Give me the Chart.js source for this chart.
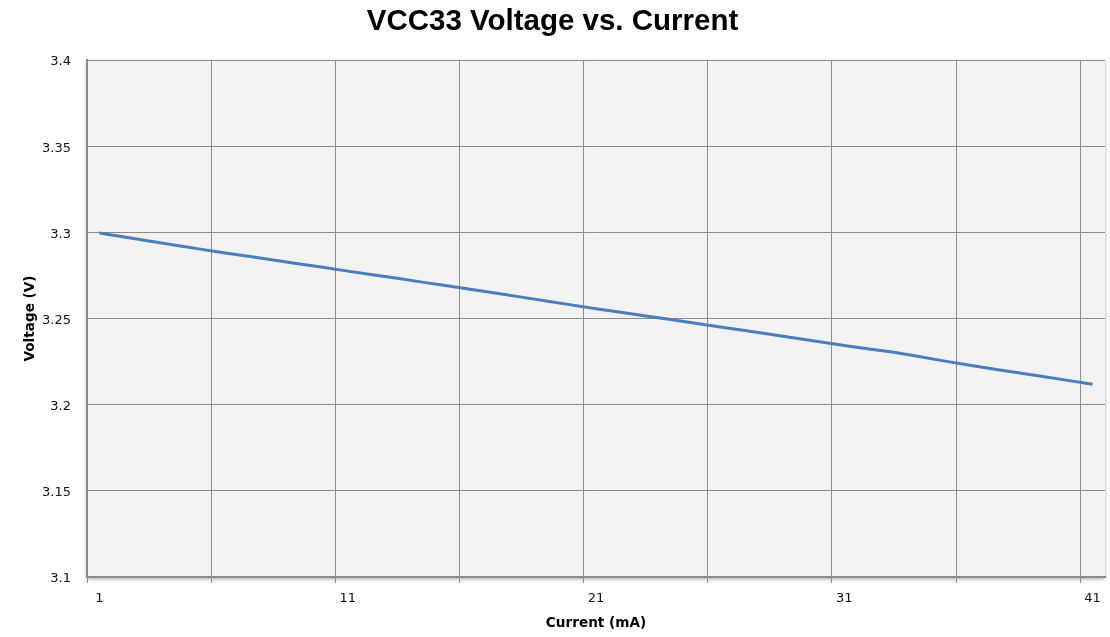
<!DOCTYPE html>
<html>
<head>
<meta charset="utf-8">
<script src="https://cdn.jsdelivr.net/npm/chart.js@4/dist/chart.umd.min.js"></script>
<style>
  html, body { margin: 0; padding: 0; background: #fff; }
  #wrap { width: 1110px; height: 637px; }
</style>
</head>
<body>
<div id="wrap"><canvas id="chart" width="1110" height="637"></canvas></div>
<script>
// current in mA (category labels)
const currents = ["1","2","3","4","5","6","7","8","9","10",
  "11","12","13","14","15","16","17","18","19","20",
  "21","22","23","24","25","26","27","28","29","30",
  "31","32","33","34","35","36","37","38","39","40","41"];

// VCC33 voltage
const voltages = [3.2996, 3.2973, 3.2950, 3.2927, 3.2904, 3.2882, 3.2861, 3.2840, 3.2818, 3.2797,
  3.2775, 3.2754, 3.2733, 3.2711, 3.2690, 3.2668, 3.2646, 3.2624, 3.2601, 3.2579,
  3.2557, 3.2536, 3.2515, 3.2494, 3.2473, 3.2451, 3.2430, 3.2408, 3.2387, 3.2365,
  3.2343, 3.2323, 3.2304, 3.2280, 3.2254, 3.2230, 3.2207, 3.2185, 3.2163, 3.2141, 3.2119];

const gridGray = "#8c8c8c";

// grey plot background with a soft shadow, like the spreadsheet original
const plotBg = {
  id: "plotBg",
  beforeDraw(chart) {
    const {ctx, chartArea: a} = chart;
    ctx.save();
    ctx.shadowColor = "rgba(0,0,0,0.35)";
    ctx.shadowBlur = 4;
    ctx.shadowOffsetX = 0;
    ctx.shadowOffsetY = 2;
    ctx.fillStyle = "#f2f2f2";
    ctx.fillRect(a.left, a.top, a.right - a.left, a.bottom - a.top);
    ctx.restore();
  }
};

const everyFifth = ctx => (ctx.index % 5 === 0 ? gridGray : "rgba(0,0,0,0)");

new Chart(document.getElementById("chart"), {
  type: "line",
  data: {
    labels: currents,
    datasets: [{
      label: "VCC33",
      data: voltages,
      borderColor: "#4a7ebb",
      backgroundColor: "#4a7ebb",
      borderWidth: 3,
      pointRadius: 0,
      tension: 0
    }]
  },
  plugins: [plotBg],
  options: {
    responsive: false,
    animation: false,
    layout: { padding: { left: 0, right: 5, top: 0, bottom: 0 } },
    plugins: {
      legend: { display: false },
      tooltip: { enabled: false },
      title: {
        display: true,
        text: "VCC33 Voltage vs. Current",
        color: "#000",
        font: { family: "'Liberation Sans', Arial, sans-serif", size: 29.5, weight: "bold", lineHeight: 1.2 },
        padding: { top: 4.3, bottom: 20.3 }
      }
    },
    scales: {
      x: {
        offset: true,
        afterFit(s) { s.height = 60; },
        grid: {
          offset: true,
          color: everyFifth,
          tickColor: everyFifth,
          lineWidth: 1,
          tickLength: 6
        },
        border: { color: gridGray, width: 2 },
        ticks: {
          autoSkip: false,
          maxRotation: 0,
          padding: 8,
          color: "#111",
          font: { family: "'DejaVu Sans', sans-serif", size: 13 },
          callback: (v, i) => (i % 10 === 0 ? currents[i] : "")
        },
        title: {
          display: true,
          text: "Current (mA)",
          color: "#000",
          font: { family: "'DejaVu Sans', sans-serif", size: 13.6, weight: "bold" },
          padding: { top: 0, bottom: 5 }
        }
      },
      y: {
        min: 3.1,
        max: 3.4,
        afterFit(s) { s.width = 87; },
        grid: { color: gridGray, lineWidth: 1, drawTicks: false },
        border: { color: gridGray, width: 2 },
        ticks: {
          stepSize: 0.05,
          padding: 16,
          labelOffset: 2,
          color: "#111",
          font: { family: "'DejaVu Sans', sans-serif", size: 13 },
          callback: v => String(parseFloat(v.toFixed(2)))
        },
        title: {
          display: true,
          text: "Voltage (V)",
          color: "#000",
          font: { family: "'DejaVu Sans', sans-serif", size: 13.6, weight: "bold" },
          padding: { top: 22, bottom: 0 }
        }
      }
    }
  }
});
</script>
</body>
</html>
